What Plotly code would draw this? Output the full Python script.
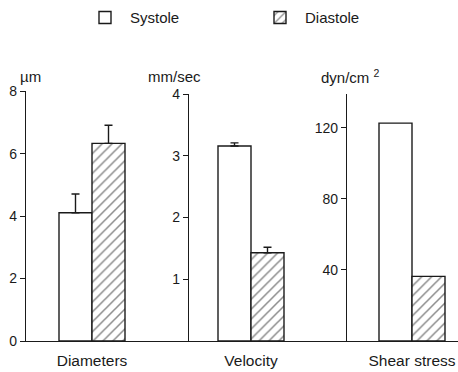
import plotly.graph_objects as go

# ---- data -------------------------------------------------------------
categories = ["Diameters", "Velocity", "Shear stress"]
units = ["µm", "mm/sec", "dyn/cm <sup>2</sup>"]
systole = [4.11, 3.16, 122.7]
diastole = [6.33, 1.43, 36.4]
systole_err = [0.60, 0.05, None]
diastole_err = [0.58, 0.09, None]
y_ranges = [[0, 8], [0, 4], [0, 139]]
y_ticks = [[0, 2, 4, 6, 8], [1, 2, 3, 4], [40, 80, 120]]

# ---- layout geometry (pixels on a 458 x 372 canvas) ---------------------
W, H = 458, 372
FONT = "Liberation Sans, Arial, Helvetica, sans-serif"
INK = "#1a1a1a"
x_doms = [(26, 189), (189, 347), (347, 458)]
y_tops = [87, 90, 90]
baseline = 348
group_centers = [92, 251, 412]
px_per_cat = 110          # one category unit in pixels (bar = 0.3 unit)


def px_x(v):
    return v / W


def px_y(v):
    return 1 - v / H


fig = go.Figure()

for i, cat in enumerate(categories):
    sfx = "" if i == 0 else str(i + 1)
    for name, vals, errs, pattern in (
        ("Systole", systole, systole_err, ""),
        ("Diastole", diastole, diastole_err, "/"),
    ):
        err = errs[i]
        fig.add_trace(go.Bar(
            x=[cat], y=[vals[i]], name=name,
            legendgroup=name, showlegend=(i == 0),
            xaxis="x" + sfx, yaxis="y" + sfx,
            offsetgroup=name,
            marker=dict(color="white",
                        line=dict(color=INK, width=1.4),
                        pattern=dict(shape=pattern, fgcolor=INK,
                                     bgcolor="white", size=7,
                                     solidity=0.22)),
            error_y=dict(type="data", symmetric=False,
                         array=[err if err is not None else 0],
                         arrayminus=[0], visible=err is not None,
                         color=INK, thickness=1.4, width=4),
        ))

    x0, x1 = x_doms[i]
    left = (group_centers[i] - x0) / px_per_cat
    right = (x1 - group_centers[i]) / px_per_cat
    fig.update_layout({
        "xaxis" + sfx: dict(
            domain=[px_x(x0), px_x(x1)], anchor="y" + sfx,
            range=[-left, right], type="category",
            showline=True, linecolor=INK, linewidth=1.4,
            ticks="", showgrid=False, zeroline=False,
            ticklabelstandoff=5,
            tickfont=dict(family=FONT, size=15.5, color=INK),
        ),
        "yaxis" + sfx: dict(
            domain=[px_y(baseline), px_y(y_tops[i])], anchor="x" + sfx,
            range=y_ranges[i], tickvals=y_ticks[i],
            showline=True, linecolor=INK, linewidth=1.4,
            ticks="outside", ticklen=5, tickwidth=1.2, tickcolor=INK,
            showgrid=False, zeroline=False,
            tickfont=dict(family=FONT, size=14, color=INK),
        ),
    })

# unit labels above each axis
unit_x = [30, 174, 350]
for i, u in enumerate(units):
    fig.add_annotation(text=u, x=px_x(unit_x[i]), y=px_y(72),
                       xref="paper", yref="paper", showarrow=False,
                       xanchor="center", yanchor="middle",
                       font=dict(family=FONT, size=15, color=INK))

fig.update_layout(
    width=W, height=H,
    margin=dict(l=0, r=0, t=0, b=0),
    paper_bgcolor="white", plot_bgcolor="white",
    barmode="group", bargap=0.4, bargroupgap=0,
    showlegend=True,
    legend=dict(orientation="h", x=px_x(80), y=px_y(-7),
                xanchor="left", yanchor="top",
                font=dict(family=FONT, size=15, color=INK),
                itemwidth=40, entrywidth=120, entrywidthmode="pixels",
                bgcolor="rgba(0,0,0,0)"),
    font=dict(family=FONT, color=INK),
)

fig.write_html("out.html")
